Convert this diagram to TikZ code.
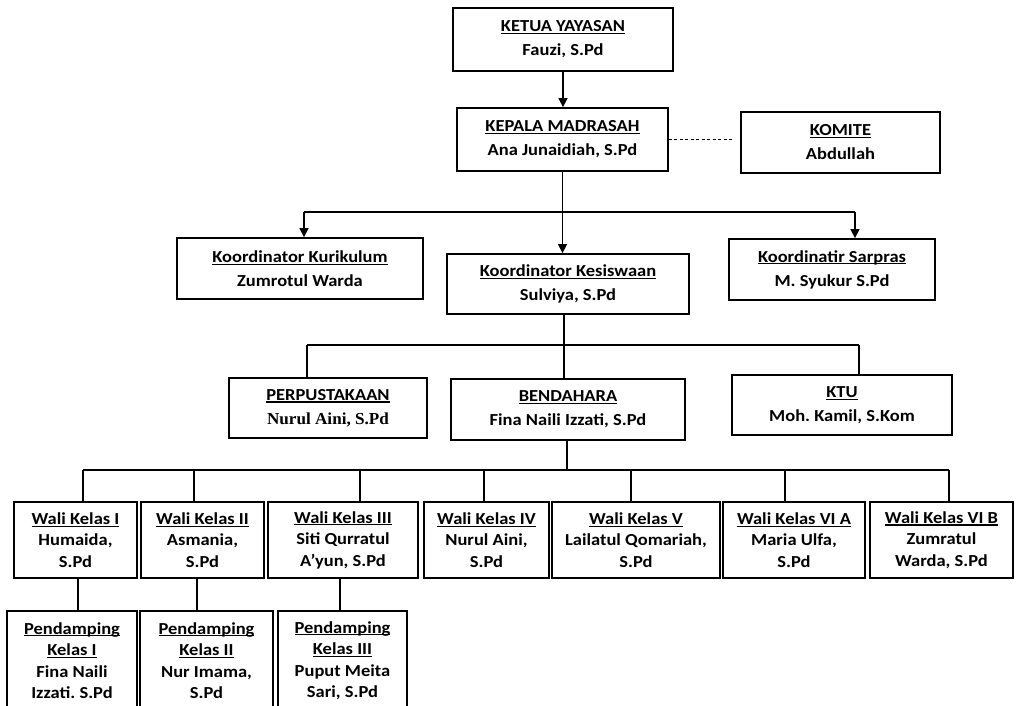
\documentclass[tikz,border=0pt]{standalone}
\usepackage{fontspec}
\newfontfamily\bx{Carlito}[FakeStretch=1.1]
\newfontfamily\sr{Liberation Serif}[FakeStretch=1.02]
\usetikzlibrary{arrows.meta}
\newcommand{\ulx}[1]{\setbox0\hbox{#1}\rlap{\rule[-2.3pt]{\wd0}{1.1pt}}\box0}
\frenchspacing
\begin{document}
\begin{tikzpicture}[x=1pt,y=-1pt,
  orgbox/.style={draw, line width=1.8pt, align=center, inner sep=0pt,
    font=\bx\bfseries\fontsize{16.8}{24}\selectfont},
  small/.style={font=\bx\bfseries\fontsize{16.8}{21.5}\selectfont},
  conn/.style={line width=1.5pt},
  arr/.style={conn,-{Triangle[length=9pt,width=9pt]}}]
\useasboundingbox (0,0) rectangle (1018,706);
\fill[white] (0,0) rectangle (1018,706);
\begin{scope}
\clip (0,0) rectangle (1018,706);
% top levels
\node[orgbox, minimum width=220pt, minimum height=63pt] (ketua) at (563,39.5) {\ulx{KETUA YAYASAN}\\Fauzi, S.Pd};
\node[orgbox, minimum width=211pt, minimum height=63pt] (kepala) at (562.5,139.5) {\ulx{KEPALA MADRASAH}\\Ana Junaidiah, S.Pd};
\node[orgbox, minimum width=199pt, minimum height=61pt] (komite) at (840.5,142.5) {\ulx{KOMITE}\\Abdullah};
% coordinators
\node[orgbox, minimum width=246pt, minimum height=61pt] (kurikulum) at (300,268.5) {\ulx{Koordinator Kurikulum}\\Zumrotul Warda};
\node[orgbox, minimum width=242pt, minimum height=60pt] (kesiswaan) at (568,284) {\ulx{Koordinator Kesiswaan}\\Sulviya, S.Pd};
\node[orgbox, minimum width=206pt, minimum height=61pt] (sarpras) at (832,269.5) {\ulx{Koordinatir Sarpras}\\M. Syukur S.Pd};
% third level
\node[orgbox, minimum width=198pt, minimum height=60pt] (perpus) at (328,408) {\ulx{PERPUSTAKAAN}\\{\sr\bfseries Nurul Aini, S.Pd}};
\node[orgbox, minimum width=234pt, minimum height=61pt] (bendahara) at (568,409.5) {\ulx{BENDAHARA}\\Fina Naili Izzati, S.Pd};
\node[orgbox, minimum width=220pt, minimum height=60pt] (ktu) at (842,405) {\ulx{KTU}\\Moh. Kamil, S.Kom};
% wali kelas
\node[orgbox, small, minimum width=123pt, minimum height=76pt] (w1) at (75.5,540) {\ulx{Wali Kelas I}\\Humaida,\\S.Pd};
\node[orgbox, small, minimum width=123pt, minimum height=76pt] (w2) at (202.5,540) {\ulx{Wali Kelas II}\\Asmania,\\S.Pd};
\node[orgbox, small, minimum width=150pt, minimum height=76pt] (w3) at (343,540) {\ulx{Wali Kelas III}\\Siti Qurratul\\A’yun, S.Pd};
\node[orgbox, small, minimum width=125pt, minimum height=76pt] (w4) at (486.5,540) {\ulx{Wali Kelas IV}\\Nurul Aini,\\S.Pd};
\node[orgbox, small, minimum width=168pt, minimum height=76pt] (w5) at (636,540) {\ulx{Wali Kelas V}\\Lailatul Qomariah,\\S.Pd};
\node[orgbox, small, minimum width=142pt, minimum height=76pt] (w6) at (794,540) {\ulx{Wali Kelas VI A}\\Maria Ulfa,\\S.Pd};
\node[orgbox, small, minimum width=143pt, minimum height=76pt] (w7) at (941.5,540) {\ulx{Wali Kelas VI B}\\Zumratul\\Warda, S.Pd};
% pendamping
\node[orgbox, small, minimum width=130pt, minimum height=99pt] (p1) at (72,660.5) {\ulx{Pendamping}\\\ulx{Kelas I}\\Fina Naili\\Izzati. S.Pd};
\node[orgbox, small, minimum width=133pt, minimum height=99pt] (p2) at (206.5,660.5) {\ulx{Pendamping}\\\ulx{Kelas II}\\Nur Imama,\\S.Pd};
\node[orgbox, small, minimum width=129pt, minimum height=99pt] (p3) at (342.5,660.5) {\ulx{Pendamping}\\\ulx{Kelas III}\\Puput Meita\\Sari, S.Pd};
% coordinates
\coordinate (dE) at (733,142);
\coordinate (b1) at (304,212);
\coordinate (b2) at (855,212);
\coordinate (s2) at (564,345);
\coordinate (c1) at (307,345);
\coordinate (c2) at (859,345);
\coordinate (s3) at (567,470);
\coordinate (d1) at (83,470);
\coordinate (d2) at (194,470);
\coordinate (d3) at (360,470);
\coordinate (d4) at (484,470);
\coordinate (d5) at (631,470);
\coordinate (d6) at (785,470);
\coordinate (d7) at (949,470);
\coordinate (e1) at (78,595);
\coordinate (e2) at (197,595);
\coordinate (e3) at (340,595);
% connectors
\draw[arr] (ketua.south) -- (ketua.south |- kepala.north);
\draw[line width=1.2pt, dash pattern=on 3pt off 2.5pt] (kepala.east) -- (kepala.east -| dE);
\draw[arr] (kepala.south) -- (kepala.south |- kesiswaan.north);
\draw[conn] (b1) -- (b2);
\draw[arr] (b1) -- (b1 |- kurikulum.north);
\draw[arr] (b2) -- (b2 |- sarpras.north);
\draw[conn] (kesiswaan.south -| s2) -- (s2 |- bendahara.north);
\draw[conn] (c1) -- (c2);
\draw[conn] (c1) -- (c1 |- perpus.north);
\draw[conn] (c2) -- (c2 |- ktu.north);
\draw[conn] (bendahara.south -| s3) -- (s3);
\draw[conn] (d1) -- (d7);
\draw[conn] (d1) -- (d1 |- w1.north);
\draw[conn] (d2) -- (d2 |- w2.north);
\draw[conn] (d3) -- (d3 |- w3.north);
\draw[conn] (d4) -- (d4 |- w4.north);
\draw[conn] (d5) -- (d5 |- w5.north);
\draw[conn] (d6) -- (d6 |- w6.north);
\draw[conn] (d7) -- (d7 |- w7.north);
\draw[conn] (w1.south -| e1) -- (e1 |- p1.north);
\draw[conn] (w2.south -| e2) -- (e2 |- p2.north);
\draw[conn] (w3.south -| e3) -- (e3 |- p3.north);
\end{scope}
\end{tikzpicture}
\end{document}
